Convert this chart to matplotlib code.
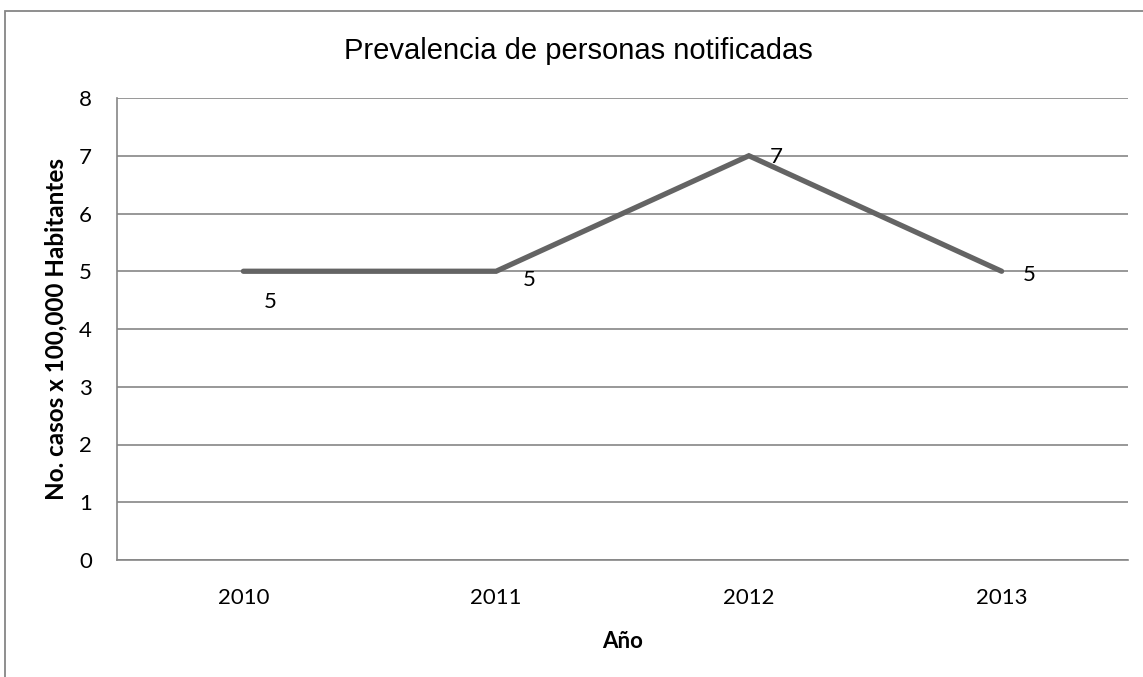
import matplotlib
matplotlib.use("Agg")
import matplotlib.pyplot as plt
from matplotlib.patches import Rectangle

years = ["2010", "2011", "2012", "2013"]
prevalence = [5, 5, 7, 5]
y_ticks = [0, 1, 2, 3, 4, 5, 6, 7, 8]

title = "Prevalencia de personas notificadas"
x_label = "Año"
y_label = "No. casos x 100,000 Habitantes"

# label offsets in points (Excel placed them a bit oddly)
label_offsets = [(19, -22), (24, -6), (20, -1), (20, -3)]

W, H = 1143, 677
fig = plt.figure(figsize=(W / 100, H / 100), dpi=100)
grey = "#868686"

# chart border
fig.patches.append(Rectangle((5 / W, -0.1), 1.2, (H - 11) / H + 0.1,
                             transform=fig.transFigure, fill=False,
                             edgecolor=grey, lw=1.3))

ax = fig.add_axes([117 / W, (H - 560) / H, 1011 / W, 462 / H])
x = list(range(len(years)))
ax.plot(x, prevalence, color="#646464", lw=3.8, solid_capstyle="round",
        solid_joinstyle="miter", zorder=3)

for xi, v, off in zip(x, prevalence, label_offsets):
    ax.annotate(str(v), (xi, v), xytext=off, textcoords="offset points",
                ha="center", va="center", fontsize=16, family="Lato")

ax.set_xlim(-0.5, len(years) - 0.5)
ax.set_ylim(0, 8)
ax.set_yticks(y_ticks)
ax.set_xticks(x)
ax.set_xticklabels(years)
ax.yaxis.grid(True, color=grey, lw=1.2)
ax.set_axisbelow(True)
for s in ["top", "right"]:
    ax.spines[s].set_visible(False)
for s in ["left", "bottom"]:
    ax.spines[s].set_color(grey)
    ax.spines[s].set_linewidth(1.2)
ax.tick_params(length=0, labelsize=16)
for lbl in ax.get_xticklabels() + ax.get_yticklabels():
    lbl.set_family("Lato")
ax.tick_params(axis="x", pad=20)
ax.tick_params(axis="y", pad=18)

ax.set_xlabel(x_label, fontsize=16, fontweight="bold", family="Lato", labelpad=17)
ax.set_ylabel(y_label, fontsize=17.5, fontweight="bold", family="Lato", labelpad=8)

fig.text(578 / W, 1 - 51 / H, title, ha="center", va="center",
         fontsize=21, family="Liberation Sans")

fig.savefig("out.png", dpi=100)
